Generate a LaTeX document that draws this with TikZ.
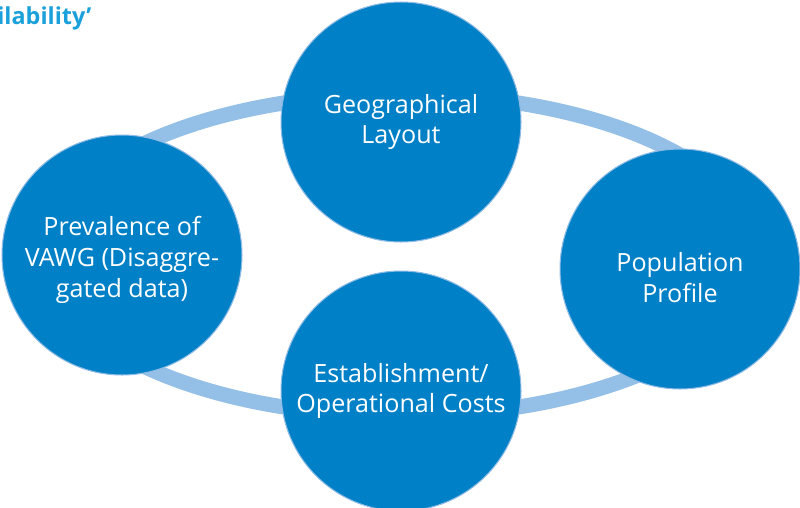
\documentclass[tikz,border=0pt]{standalone}
\usepackage{fontspec}
\setmainfont{Open Sans}
\definecolor{rondbleu}{HTML}{0080C6}
\definecolor{anneau}{HTML}{94BFE6}
\definecolor{bord}{HTML}{8DBBE5}
\definecolor{titre}{HTML}{1AA0DA}

\begin{document}
\begin{tikzpicture}[x=0.02cm, y=-0.02cm]
\tikzset{rond/.style={circle, draw=bord, line width=0.6pt, fill=rondbleu, minimum size=4.8cm, inner sep=0pt, text=white, align=center, font=\fontsize{14.3}{17.6}\selectfont}}
\useasboundingbox (0, 0) rectangle (800, 507);
\clip (0, 0) rectangle (800, 507);
\node[anchor=west, text=titre, font=\fontsize{13.3}{16}\selectfont\bfseries, inner sep=0pt] (T) at (-3, 18) {ilability’};
\draw[anneau, line width=0.3cm] (401, 255) ellipse [x radius=7.12cm, y radius=3.22cm];
\node[rond] (V1) at (401, 122) {Geographical\\Layout};
\node[rond] (V2) at (680, 269) {\rule{0pt}{21pt}Population\\Profile};
\node[rond] (V3) at (401, 391) {Establishment/\\Operational Costs};
\node[rond] (V4) at (122, 255) {\rule{0pt}{16.6pt}Prevalence of\\VAWG (Disaggre-\\gated data)};
\end{tikzpicture}
\end{document}
